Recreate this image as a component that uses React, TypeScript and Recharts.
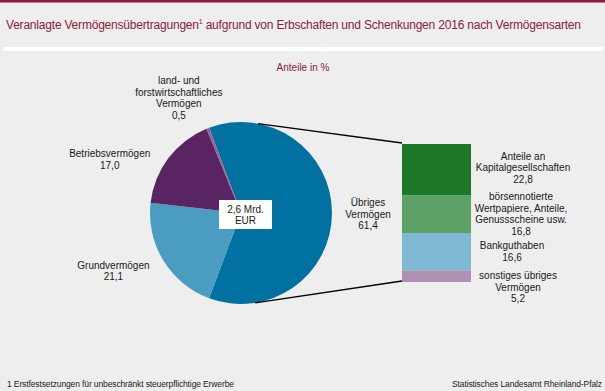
import React from 'react';
import { PieChart, Pie, Cell, BarChart, Bar, XAxis, YAxis, LabelList } from 'recharts';

// Vermögensarten (Anteile in %)
const categories = ['Übriges Vermögen', 'Grundvermögen', 'Betriebsvermögen', 'land- und forstwirtschaftliches Vermögen'];
const shares = [61.4, 21.1, 17.0, 0.5];
const pieLabelLines = [['Übriges', 'Vermögen'], ['Grundvermögen'], ['Betriebsvermögen'], ['land- und', 'forstwirtschaftliches', 'Vermögen']];

// Aufteilung "Übriges Vermögen"
const otherCategories = ['Anteile an Kapitalgesellschaften', 'börsennotierte Wertpapiere, Anteile, Genussscheine usw.', 'Bankguthaben', 'sonstiges übriges Vermögen'];
const otherShares = [22.8, 16.8, 16.6, 5.2];
const otherLabelLines = [['Anteile an', 'Kapitalgesellschaften'], ['börsennotierte', 'Wertpapiere, Anteile,', 'Genussscheine usw.'], ['Bankguthaben'], ['sonstiges übriges', 'Vermögen']];

const totalLines = ['2,6 Mrd.', 'EUR'];
const title = 'Veranlagte Vermögensübertragungen';
const titleRest = ' aufgrund von Erbschaften und Schenkungen 2016 nach Vermögensarten';
const footnote = '1 Erstfestsetzungen für unbeschränkt steuerpflichtige Erwerbe';
const source = 'Statistisches Landesamt Rheinland-Pfalz';

const pieColors = ['#0071a1', '#4a9dc0', '#5a2361', '#9a5e9c'];
const barColors = ['#1e782a', '#5ea166', '#80b9d4', '#ad90b2'];

const W = 605;
const H = 391;
const FONT = '"Liberation Sans", Arial, sans-serif';
const BG = '#edeeed';
const MAROON = '#8b1c3c';

// geometry
const CX = 241;
const CY = 213;
const R = 91;
const BAR_LEFT = 402;
const BAR_TOP = 144;
const BAR_W = 69;
const BAR_H = 138;

const pieNudge = [[-5, 1], [-15, -11], [-26, 26], [-14, 8]];
const barNudge = [[52, -2], [50, 0], [41, 0], [47, 11]];
const LH = 11.5;

const fmt = (v: number) => v.toFixed(1).replace('.', ',');

const pieData = categories.map((name, i) => ({ name, value: shares[i] }));
const barRow: any = { name: 'Übriges Vermögen' };
otherCategories.forEach((_, i) => {
  barRow['s' + i] = otherShares[i];
});
const barData = [barRow];

const TextBlock = ({ x, y, lines }: { x: number; y: number; lines: string[] }) => (
  <text x={x} y={y} textAnchor="middle" fontFamily={FONT} fontSize={10} fill="#1a1a1a">
    {lines.map((l, i) => (
      <tspan key={i} x={x} y={y - ((lines.length - 1) * LH) / 2 + i * LH} dominantBaseline="central">
        {l}
      </tspan>
    ))}
  </text>
);

const renderPieLabel = (props: any) => {
  const { cx, cy, midAngle, outerRadius, index } = props;
  const rad = (-midAngle * Math.PI) / 180;
  const r = outerRadius + 41;
  const x = cx + r * Math.cos(rad) + pieNudge[index][0];
  const y = cy + r * Math.sin(rad) + pieNudge[index][1];
  return <TextBlock key={index} x={x} y={y} lines={[...pieLabelLines[index], fmt(shares[index])]} />;
};

const makeBarLabel = (i: number) => (props: any) => {
  const x = Number(props.x) + Number(props.width) + barNudge[i][0];
  const y = Number(props.y) + Number(props.height) / 2 + barNudge[i][1];
  return <TextBlock x={x} y={y} lines={[...otherLabelLines[i], fmt(otherShares[i])]} />;
};

const angleFromTop = (deg: number, r: number) => {
  const a = (deg * Math.PI) / 180;
  return [CX + r * Math.sin(a), CY - r * Math.cos(a)];
};

export default function App() {
  const [tx, ty] = angleFromTop(10.8, R);
  const [bx, by] = angleFromTop(171, R);
  const order = [3, 2, 1, 0];
  return (
    <div style={{ position: 'absolute', left: 0, top: 0, width: W, height: H, background: BG, overflow: 'hidden' }}>
      <svg width={W} height={H} style={{ position: 'absolute', left: 0, top: 0 }}>
        <rect x={0} y={0} width={W} height={2.5} fill={MAROON} />
        <rect x={3} y={47} width={600} height={4} fill="#ffffff" />
        <text x={6} y={29} fontFamily={FONT} fontSize={12} fill={MAROON} textLength={575} lengthAdjust="spacing">
          {title}
          <tspan fontSize={7} dy={-5}>1</tspan>
          <tspan dy={5}>{titleRest}</tspan>
        </text>
        <text x={303} y={67} textAnchor="middle" dominantBaseline="central" fontFamily={FONT} fontSize={10} fill={MAROON}>
          Anteile in %
        </text>
        <text x={7} y={387} fontFamily={FONT} fontSize={8.5} fill="#222" textLength={227} lengthAdjust="spacing">
          {footnote}
        </text>
        <text x={452} y={387} fontFamily={FONT} fontSize={8.5} fill="#222" textLength={150} lengthAdjust="spacing">
          {source}
        </text>
      </svg>

      <div style={{ position: 'absolute', left: 0, top: 0 }}>
        <PieChart width={W} height={H} margin={{ top: 0, right: 0, bottom: 0, left: 0 }}>
          <Pie
            data={pieData}
            dataKey="value"
            cx={CX}
            cy={CY}
            outerRadius={R}
            startAngle={110.5}
            endAngle={-249.5}
            stroke="none"
            label={renderPieLabel}
            labelLine={false}
            isAnimationActive={false}
          >
            {pieData.map((_, i) => (
              <Cell key={i} fill={pieColors[i]} />
            ))}
          </Pie>
        </PieChart>
      </div>

      <div style={{ position: 'absolute', left: BAR_LEFT, top: BAR_TOP }}>
        <BarChart
          width={200}
          height={BAR_H + 24}
          data={barData}
          margin={{ top: 0, right: 200 - BAR_W, bottom: 24, left: 0 }}
          barCategoryGap={0}
        >
          <XAxis dataKey="name" hide />
          <YAxis type="number" domain={[0, 61.4]} allowDataOverflow hide />
          {order.map((i) => (
            <Bar key={i} dataKey={'s' + i} stackId="a" fill={barColors[i]} isAnimationActive={false}>
              <LabelList dataKey={'s' + i} content={makeBarLabel(i)} />
            </Bar>
          ))}
        </BarChart>
      </div>

      <svg width={W} height={H} style={{ position: 'absolute', left: 0, top: 0, pointerEvents: 'none' }}>
        <line x1={tx} y1={ty} x2={BAR_LEFT} y2={BAR_TOP - 1} stroke="#000" strokeWidth={1.3} />
        <line x1={bx} y1={by} x2={BAR_LEFT} y2={BAR_TOP + BAR_H - 1} stroke="#000" strokeWidth={1.3} />
        <rect x={219} y={200} width={53} height={29} fill="#ffffff" />
        <TextBlock x={245.5} y={215} lines={totalLines} />
      </svg>
    </div>
  );
}
